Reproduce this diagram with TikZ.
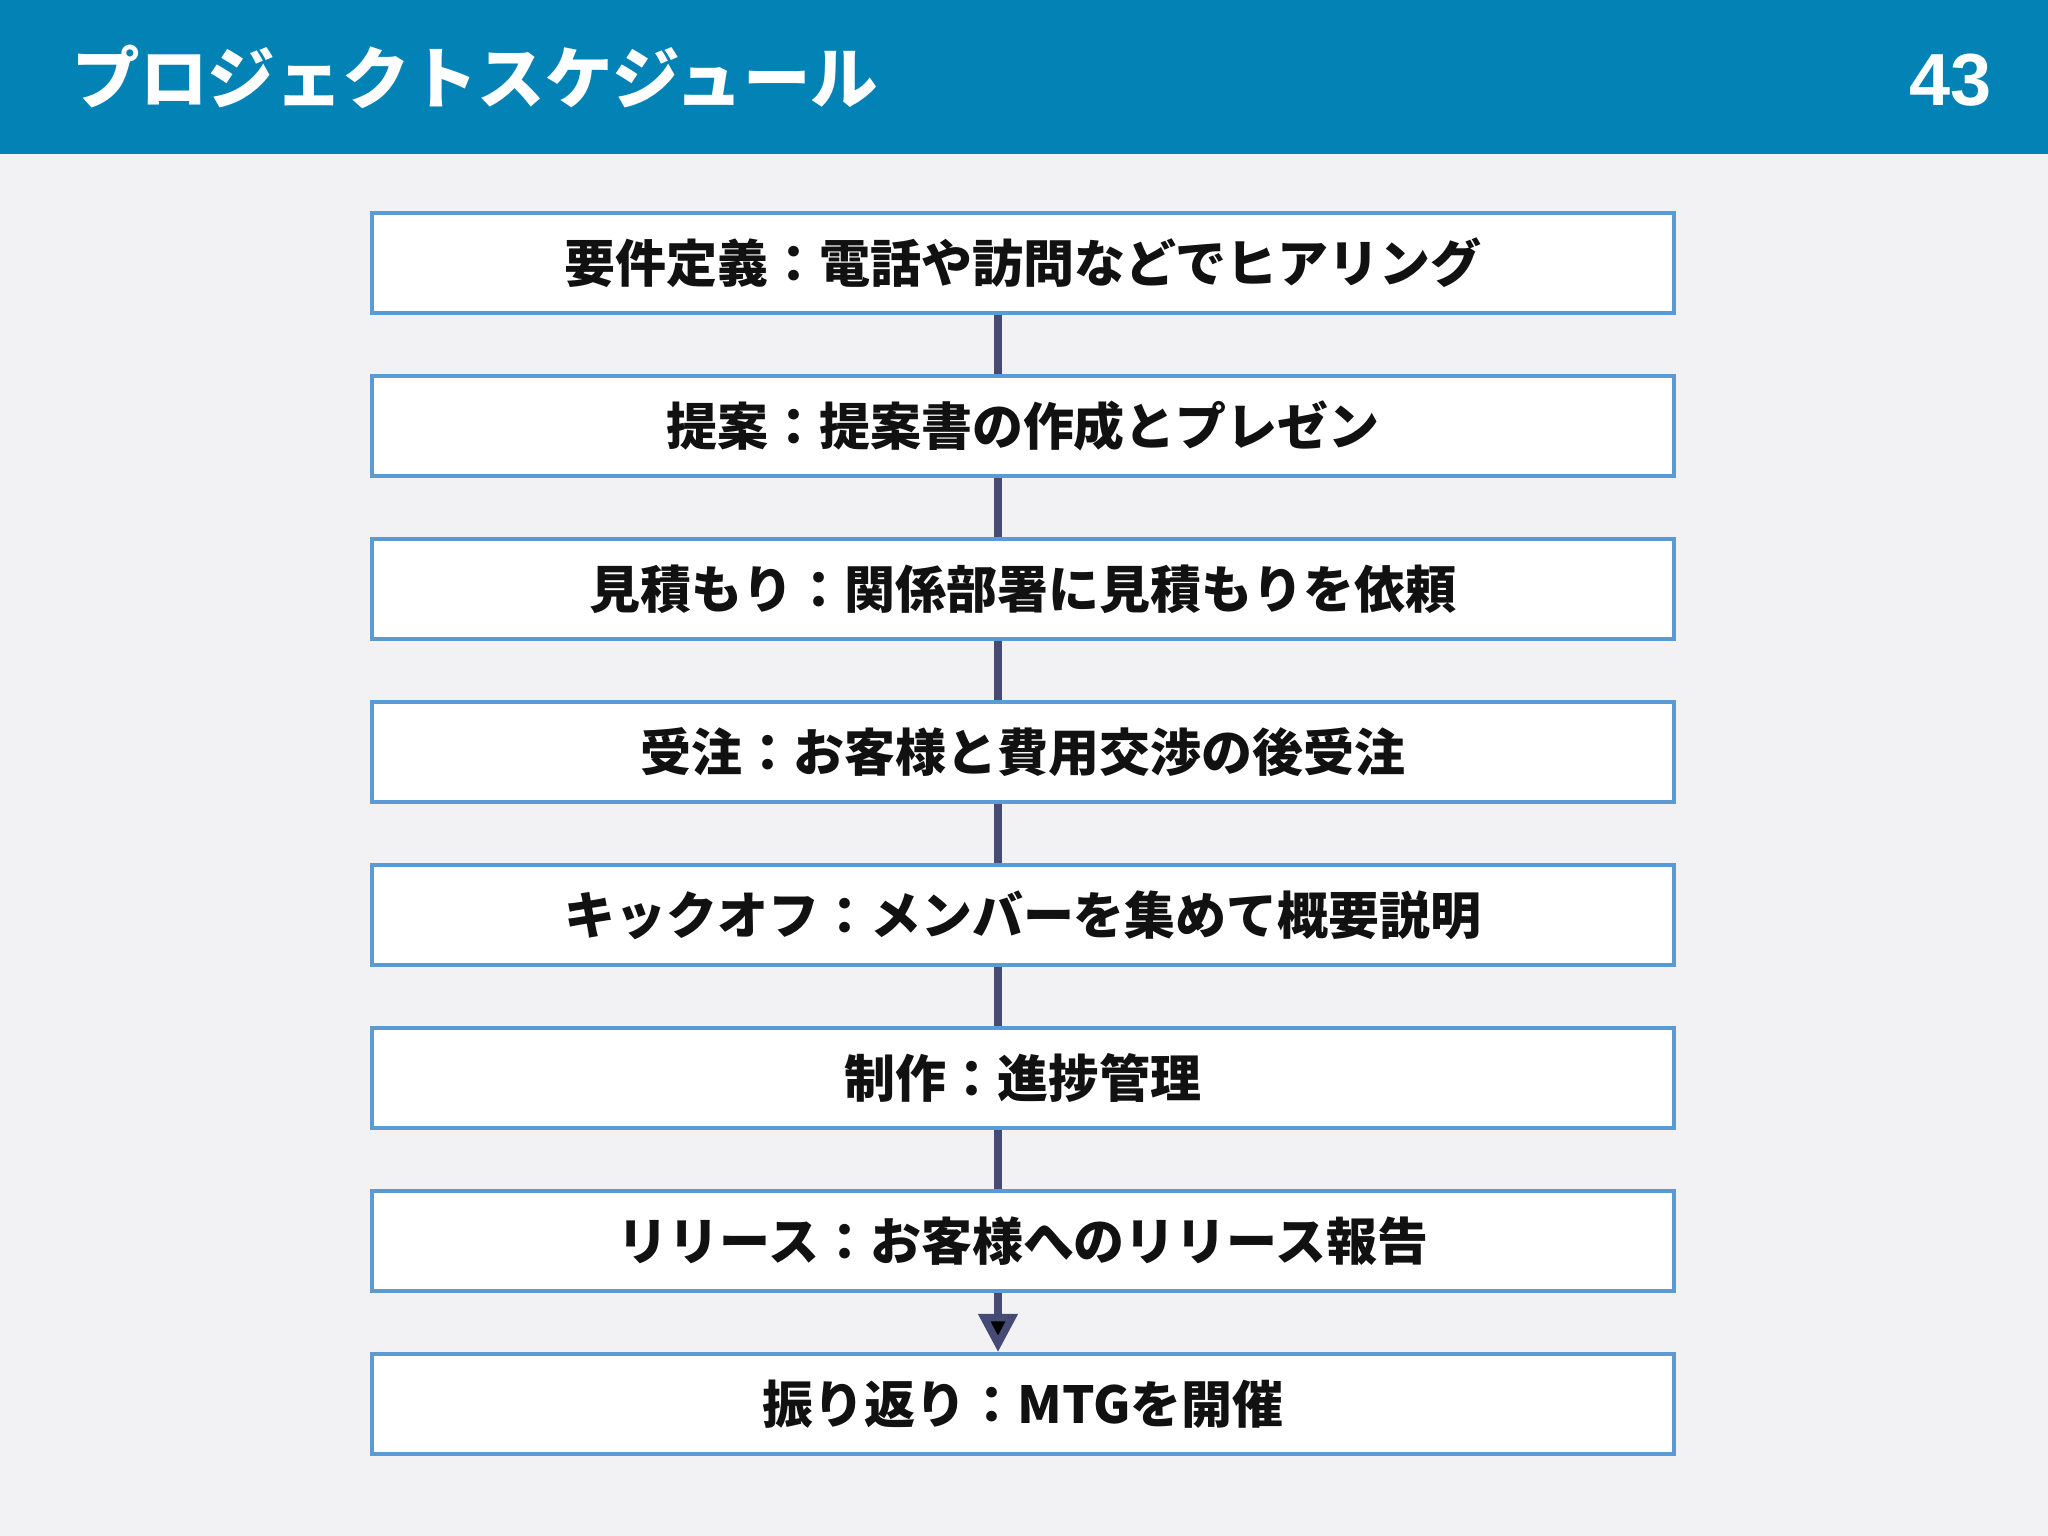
\documentclass[tikz,border=0pt]{standalone}
\usepackage{fontspec}
\setmainfont{Noto Sans CJK JP}
\newfontfamily\numfont{Liberation Sans}
\usetikzlibrary{arrows.meta}
\definecolor{headblue}{HTML}{0382B5}
\definecolor{pagebg}{HTML}{F2F2F4}
\definecolor{boxline}{HTML}{5B9BD5}
\definecolor{linkcol}{HTML}{454B74}
\definecolor{inkcol}{HTML}{111111}
\begin{document}
\begin{tikzpicture}[x=0.01cm,y=-0.01cm,
  phase/.style={shape=rectangle,draw=boxline,fill=white,line width=0.04cm,
    minimum width=13.02cm,minimum height=1.0cm,text=inkcol,
    font=\fontsize{14.5pt}{17pt}\selectfont\bfseries},
  link/.style={draw=linkcol,line width=0.075cm}]
\fill[pagebg] (0,0) rectangle (2048,1536);
\fill[headblue] (0,0) rectangle (2048,154);
\node(title) at (72,77)[anchor=west,inner sep=0pt,text=white,font=\fontsize{19.2pt}{22pt}\selectfont\bfseries]{プロジェクトスケジュール};
\node(page) at (1992,80)[anchor=east,inner sep=0pt,text=white,font=\numfont\fontsize{21pt}{24pt}\selectfont\bfseries]{43};
\coordinate(spine) at (998,0);
\node(p0) at (1023,263)[phase]  {要件定義：電話や訪問などでヒアリング};
\node(p1) at (1023,426)[phase]  {提案：提案書の作成とプレゼン};
\node(p2) at (1023,589)[phase]  {見積もり：関係部署に見積もりを依頼};
\node(p3) at (1023,752)[phase]  {受注：お客様と費用交渉の後受注};
\node(p4) at (1023,915)[phase]  {キックオフ：メンバーを集めて概要説明};
\node(p5) at (1023,1078)[phase] {制作：進捗管理};
\node(p6) at (1023,1241)[phase] {リリース：お客様へのリリース報告};
\node(p7) at (1023,1404)[phase] {振り返り：MTGを開催};
\path [link]
  (p0.south -| spine)  edge  (p1.north -| spine)
  (p1.south -| spine)  edge  (p2.north -| spine)
  (p2.south -| spine)  edge  (p3.north -| spine)
  (p3.south -| spine)  edge  (p4.north -| spine)
  (p4.south -| spine)  edge  (p5.north -| spine)
  (p5.south -| spine)  edge  (p6.north -| spine)
  (p6.south -| spine)  edge [-{Triangle[width=0.38cm,length=0.38cm]}]  (p7.north -| spine);

\end{tikzpicture}
\end{document}
